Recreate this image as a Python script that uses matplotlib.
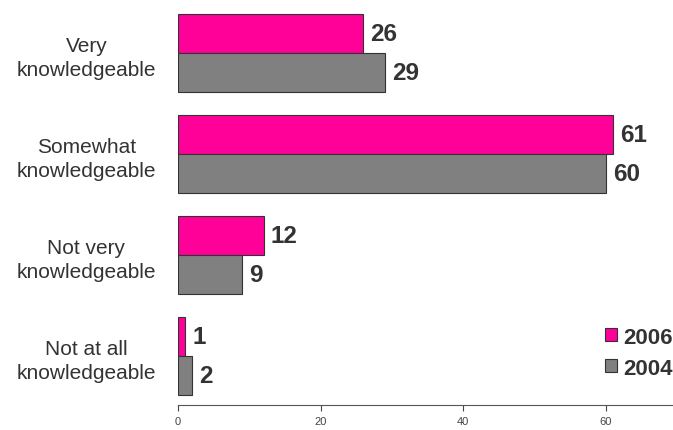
import numpy as np
import matplotlib.pyplot as plt

plt.rcParams['font.family'] = ['Liberation Sans', 'DejaVu Sans']

categories = ['Very\nknowledgeable', 'Somewhat\nknowledgeable',
              'Not very\nknowledgeable', 'Not at all\nknowledgeable']
values_2006 = [26, 61, 12, 1]
values_2004 = [29, 60, 9, 2]
years = ['2006', '2004']

pink = '#ff0099'
grey = '#808080'
text_col = '#333333'

fig = plt.figure(figsize=(6.73, 4.31), dpi=100)
ax = fig.add_axes([178 / 673, 25 / 431, 1 - 178 / 673, 406 / 431])

y = np.arange(len(categories))[::-1]
h = 0.386
b1 = ax.barh(y + h / 2, values_2006, height=h, color=pink, edgecolor='#333333', linewidth=0.8, label=years[0])
b2 = ax.barh(y - h / 2, values_2004, height=h, color=grey, edgecolor='#333333', linewidth=0.8, label=years[1])

for bars, vals in [(b1, values_2006), (b2, values_2004)]:
    for bar, v in zip(bars, vals):
        ax.text(v + 1.0, bar.get_y() + bar.get_height() / 2, str(v),
                va='center', ha='left', fontsize=17.5, fontweight='bold', color=text_col)

ax.set_xlim(0, 69.4)
ax.set_ylim(-0.485, 3.535)
ax.set_xticks([0, 20, 40, 60])
ax.tick_params(axis='x', labelsize=8, colors='#444444', length=4, width=0.8, direction='out', pad=4)
ax.set_yticks(y)
ax.set_yticklabels(categories, fontsize=15, color=text_col, multialignment='center',
                   ha='center', linespacing=1.3)
ax.tick_params(axis='y', length=0, pad=66)
for s in ['top', 'right', 'left']:
    ax.spines[s].set_visible(False)
ax.spines['bottom'].set_color('#555555')

leg = ax.legend(loc='lower right', bbox_to_anchor=(1.0, 0.065), frameon=False,
                prop={'weight': 'bold', 'size': 16}, handlelength=0.55, handleheight=0.55,
                handletextpad=0.3, labelspacing=0.45, borderaxespad=0, borderpad=0)
for t in leg.get_texts():
    t.set_color(text_col)

fig.savefig('out.png', dpi=100)
